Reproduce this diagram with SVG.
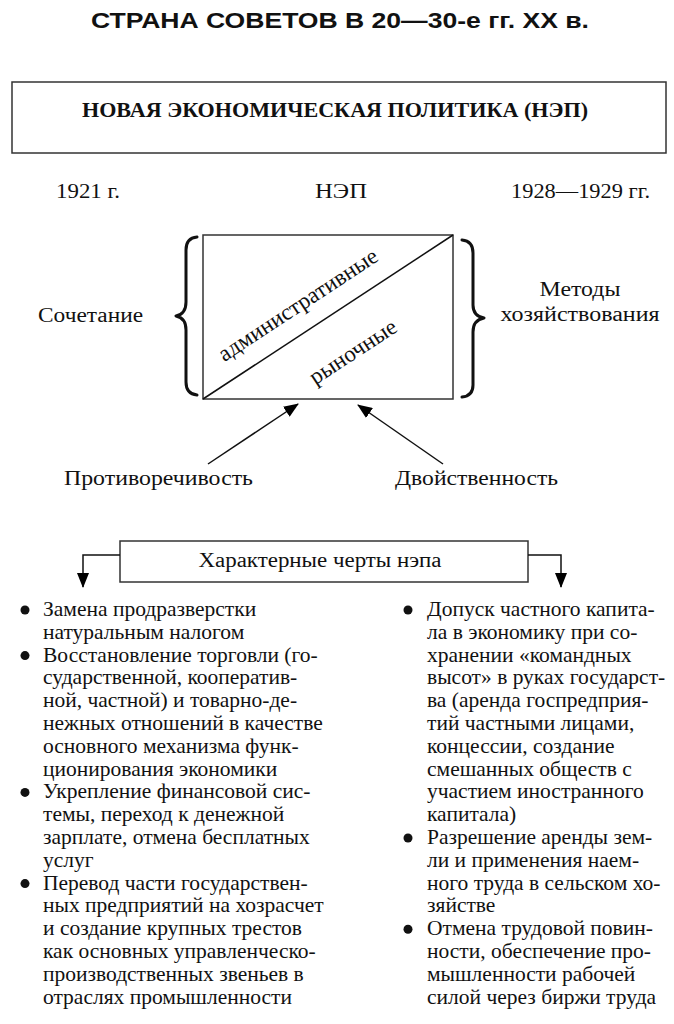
<svg xmlns="http://www.w3.org/2000/svg" width="674" height="1024" viewBox="0 0 674 1024">
<defs>
<marker id="ah" viewBox="0 0 15 12" refX="14" refY="6" markerWidth="15" markerHeight="12" markerUnits="userSpaceOnUse" orient="auto">
<path d="M0,0 L15,6 L0,12 Z" fill="#000"/>
</marker>
</defs>
<style>
.serif{font-family:"Liberation Serif","Times New Roman",serif;fill:#111;}
.t20{font-size:20px;}
.lst{font-size:21.5px;}
.box{fill:none;stroke:#333;stroke-width:1.5;}
.ln{fill:none;stroke:#111;stroke-width:1.5;}
.brace{fill:none;stroke:#111;stroke-width:3;stroke-linejoin:round;stroke-linecap:round;}
.blt{fill:#111;}
</style>
<rect width="674" height="1024" fill="#fff"/>
<text x="340" y="28" text-anchor="middle" font-family="Liberation Sans, Arial, sans-serif" font-weight="bold" font-size="22" fill="#111" textLength="498" lengthAdjust="spacingAndGlyphs">СТРАНА СОВЕТОВ В 20—30-е гг. XX в.</text>

<g id="nep-title">
<rect class="box" x="12" y="82" width="654" height="71"/>
<text class="serif" x="335" y="117" text-anchor="middle" font-size="22" font-weight="bold" textLength="506" lengthAdjust="spacingAndGlyphs">НОВАЯ ЭКОНОМИЧЕСКАЯ ПОЛИТИКА (НЭП)</text>
</g>

<g id="years">
<text class="serif t20" x="56" y="198" textLength="64" lengthAdjust="spacingAndGlyphs">1921 г.</text>
<text class="serif t20" x="341" y="198" text-anchor="middle" textLength="52" lengthAdjust="spacingAndGlyphs">НЭП</text>
<text class="serif t20" x="511" y="198" textLength="139" lengthAdjust="spacingAndGlyphs">1928—1929 гг.</text>
</g>

<g id="methods-box">
<rect class="box" x="203" y="235" width="250" height="164"/>
<line class="ln" x1="203" y1="399" x2="453" y2="235" stroke-width="1.2"/>
<text class="serif" font-size="23" transform="translate(302,311) rotate(-33.3)" text-anchor="middle">административные</text>
<text class="serif" font-size="23" transform="translate(357,358) rotate(-33.3)" text-anchor="middle">рыночные</text>
</g>

<g id="left-brace">
<path class="brace" d="M197,237 Q186,238 186,250 V302 Q186,314 176,316 Q186,318 186,330 V382 Q186,394 197,395"/>
<text class="serif t20" x="38" y="322" textLength="105" lengthAdjust="spacingAndGlyphs">Сочетание</text>
</g>

<g id="right-brace">
<path class="brace" d="M462,240 Q473,241 473,253 V305 Q473,316 484,318 Q473,320 473,332 V385 Q473,396 462,397"/>
<text class="serif t20" x="580" y="296" text-anchor="middle" textLength="81" lengthAdjust="spacingAndGlyphs">Методы</text>
<text class="serif t20" x="580" y="321" text-anchor="middle" textLength="159" lengthAdjust="spacingAndGlyphs">хозяйствования</text>
</g>

<g id="contradiction">
<text class="serif t20" x="64" y="485" textLength="189" lengthAdjust="spacingAndGlyphs">Противоречивость</text>
</g>
<g id="duality">
<text class="serif t20" x="395" y="485" textLength="163" lengthAdjust="spacingAndGlyphs">Двойственность</text>
</g>

<g id="features">
<rect class="box" x="120" y="541" width="408" height="41"/>
<text class="serif t20" x="320" y="567" text-anchor="middle" textLength="243" lengthAdjust="spacingAndGlyphs">Характерные черты нэпа</text>
</g>

<g id="connectors">
<line class="ln" x1="208" y1="464" x2="298" y2="404" marker-end="url(#ah)"/>
<line class="ln" x1="443" y1="464" x2="358" y2="405" marker-end="url(#ah)"/>
<path class="ln" d="M120,555 H83 V587" marker-end="url(#ah)"/>
<path class="ln" d="M528,555 H561 V587" marker-end="url(#ah)"/>
</g>

<g id="left-list" class="serif lst">
<circle class="blt" cx="25" cy="610" r="4.5"/>
<circle class="blt" cx="25" cy="655.6" r="4.5"/>
<circle class="blt" cx="25" cy="792.4" r="4.5"/>
<circle class="blt" cx="25" cy="883.6" r="4.5"/>
<text x="43" y="616">Замена продразверстки</text>
<text x="43" y="638.8">натуральным налогом</text>
<text x="43" y="661.6">Восстановление торговли (го-</text>
<text x="43" y="684.4">сударственной, кооператив-</text>
<text x="43" y="707.2">ной, частной) и товарно-де-</text>
<text x="43" y="730">нежных отношений в качестве</text>
<text x="43" y="752.8">основного механизма функ-</text>
<text x="43" y="775.6">ционирования экономики</text>
<text x="43" y="798.4">Укрепление финансовой сис-</text>
<text x="43" y="821.2">темы, переход к денежной</text>
<text x="43" y="844">зарплате, отмена бесплатных</text>
<text x="43" y="866.8">услуг</text>
<text x="43" y="889.6">Перевод части государствен-</text>
<text x="43" y="912.4">ных предприятий на хозрасчет</text>
<text x="43" y="935.2">и создание крупных трестов</text>
<text x="43" y="958">как основных управленческо-</text>
<text x="43" y="980.8">производственных звеньев в</text>
<text x="43" y="1003.6">отраслях промышленности</text>
</g>

<g id="right-list" class="serif lst">
<circle class="blt" cx="408" cy="610" r="4.5"/>
<circle class="blt" cx="408" cy="838" r="4.5"/>
<circle class="blt" cx="408" cy="929.2" r="4.5"/>
<text x="427" y="616">Допуск частного капита-</text>
<text x="427" y="638.8">ла в экономику при со-</text>
<text x="427" y="661.6">хранении «командных</text>
<text x="427" y="684.4">высот» в руках государст-</text>
<text x="427" y="707.2">ва (аренда госпредприя-</text>
<text x="427" y="730">тий частными лицами,</text>
<text x="427" y="752.8">концессии, создание</text>
<text x="427" y="775.6">смешанных обществ с</text>
<text x="427" y="798.4">участием иностранного</text>
<text x="427" y="821.2">капитала)</text>
<text x="427" y="844">Разрешение аренды зем-</text>
<text x="427" y="866.8">ли и применения наем-</text>
<text x="427" y="889.6">ного труда в сельском хо-</text>
<text x="427" y="912.4">зяйстве</text>
<text x="427" y="935.2">Отмена трудовой повин-</text>
<text x="427" y="958">ности, обеспечение про-</text>
<text x="427" y="980.8">мышленности рабочей</text>
<text x="427" y="1003.6">силой через биржи труда</text>
</g>
</svg>
